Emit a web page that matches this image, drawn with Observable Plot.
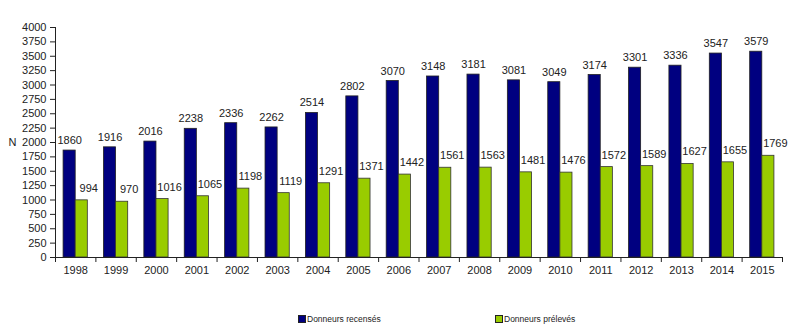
<!DOCTYPE html>
<html><head><meta charset="utf-8">
<script src="https://cdn.jsdelivr.net/npm/d3@7"></script>
<script src="https://cdn.jsdelivr.net/npm/@observablehq/plot@0.6"></script>
<style>
body{margin:0;background:#fff;font-family:"Liberation Sans",Arial,sans-serif;}
#wrap{position:relative;width:800px;height:333px;}
.leg{position:absolute;top:314px;font-size:8.5px;color:#222;display:flex;align-items:center;}
.sw{width:6px;height:6px;border:1px solid #222;margin-right:1px;}
</style></head>
<body><div id="wrap"></div>
<script>
const years = [1998,1999,2000,2001,2002,2003,2004,2005,2006,2007,2008,2009,2010,2011,2012,2013,2014,2015];
const recenses = [1860,1916,2016,2238,2336,2262,2514,2802,3070,3148,3181,3081,3049,3174,3301,3336,3547,3579];
const preleves = [994,970,1016,1065,1198,1119,1291,1371,1442,1561,1563,1481,1476,1572,1589,1627,1655,1769];
const yTicks = d3.range(0, 4001, 250);
const seriesNames = ["Donneurs recensés", "Donneurs prélevés"];
const colors = ["#000080", "#99cc00"];

const blue = years.map((y,i)=>({year:y, v:recenses[i]}));
const green = years.map((y,i)=>({year:y, v:preleves[i]}));
const bounds = [years[0]-0.5, ...years.map(y=>y+0.5)];

const chart = Plot.plot({
  width: 800, height: 295,
  marginLeft: 55, marginRight: 18, marginTop: 27, marginBottom: 38,
  style: {fontFamily: '"Liberation Sans", Arial, sans-serif', fontSize: "11px", color: "#222"},
  x: {type: "linear", domain: [years[0]-0.5, years[years.length-1]+0.5]},
  y: {domain: [0, 4000]},
  marks: [
    Plot.rectY(blue, {x1: d=>d.year-0.3, x2: d=>d.year, y: "v", fill: colors[0], stroke: "#222", strokeWidth: 0.8}),
    Plot.rectY(green, {x1: d=>d.year, x2: d=>d.year+0.3, y: "v", fill: colors[1], stroke: "#333", strokeWidth: 0.8}),
    Plot.text(blue, {x: d=>d.year-0.15, y: "v", text: d=>String(d.v), dy: -10, fill: "#222", fontSize: 11}),
    Plot.text(green, {x: d=>d.year+0.15, y: "v", text: d=>String(d.v), dy: -12, dx: 7, fill: "#222", fontSize: 11}),
    Plot.ruleY([0], {stroke: "#222"}),
    Plot.ruleX([years[0]-0.5], {y1: 0, y2: 4000, stroke: "#222"}),
    Plot.axisY({ticks: yTicks, tickSize: 5, tickPadding: 4, tickFormat: d=>String(d), label: null, fontSize: 11}),
    Plot.axisX({ticks: years, tickSize: 0, tickPadding: 9, tickFormat: d=>String(d), label: null, fontSize: 11}),
    Plot.axisX({ticks: bounds, tickSize: 5, tickFormat: ()=>"", label: null}),
    Plot.text(["N"], {frameAnchor: "left", x: null, y: [2000], dx: -47, text: d=>d, fontSize: 11, fill: "#222"})
  ]
});
const wrap = document.getElementById("wrap");
wrap.appendChild(chart);
const legPos = [298, 495];
seriesNames.forEach((n,i)=>{
  const d = document.createElement("div");
  d.className = "leg";
  d.style.left = legPos[i] + "px";
  d.innerHTML = `<span class="sw" style="background:${colors[i]}"></span>${n}`;
  wrap.appendChild(d);
});
</script></body></html>
